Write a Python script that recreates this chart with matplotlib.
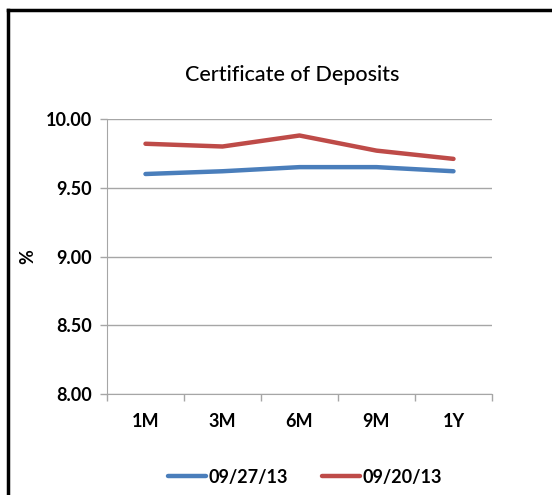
import matplotlib
matplotlib.use('Agg')
import matplotlib.pyplot as plt
from matplotlib.lines import Line2D

plt.rcParams['font.family'] = ['Lato', 'DejaVu Sans']

# data
tenors = ['1M', '3M', '6M', '9M', '1Y']
cd_0927 = [9.60, 9.62, 9.65, 9.65, 9.62]
cd_0920 = [9.82, 9.80, 9.88, 9.77, 9.71]
y_ticks = [8.00, 8.50, 9.00, 9.50, 10.00]

blue = '#4a7ebb'
red = '#be4b48'
grid_c = '#a6a6a6'

fig = plt.figure(figsize=(5.52, 4.95), dpi=100)
ax = fig.add_axes([0.1938, 0.204, 0.6975, 0.5556])

x = list(range(len(tenors)))
ax.plot(x, cd_0927, color=blue, lw=3.2, solid_capstyle='round', label='09/27/13')
ax.plot(x, cd_0920, color=red, lw=3.2, solid_capstyle='round', label='09/20/13')

ax.set_xlim(-0.5, len(tenors) - 0.5)
ax.set_ylim(8.0, 10.0)
ax.set_yticks(y_ticks)
ax.set_yticklabels(['%.2f' % v for v in y_ticks])
ax.set_xticks(x)
ax.set_xticklabels(tenors)
ax.tick_params(axis='x', length=0, pad=14)
ax.set_xticks([i - 0.5 for i in range(len(tenors) + 1)], minor=True)
ax.tick_params(axis='x', which='minor', length=5, color=grid_c, width=1)
ax.tick_params(axis='y', length=5, color=grid_c, width=1, pad=6)
for lab in ax.get_xticklabels() + ax.get_yticklabels():
    lab.set_fontsize(13)
    lab.set_fontweight('bold')

ax.yaxis.grid(True, color=grid_c, lw=1)
ax.set_axisbelow(True)
for s in ['top', 'right']:
    ax.spines[s].set_visible(False)
ax.spines['left'].set_color(grid_c)
ax.spines['bottom'].set_color(grid_c)

fig.text(28 / 552, 1 - 257 / 495, '%', rotation=90, fontsize=13, fontweight='bold',
         ha='center', va='center')
fig.text(292 / 552, 1 - 75 / 495, 'Certificate of Deposits', fontsize=15.5,
         fontweight='medium', ha='center', va='center')

fig.legend(loc='center', bbox_to_anchor=(305 / 552, 1 - 477 / 495), ncol=2,
           frameon=False, handlelength=2.1, handletextpad=0.15, columnspacing=1.9,
           prop={'size': 13, 'weight': 'bold'})

# outer frame (top and left edges visible)
fig.add_artist(Line2D([8 / 552, 8 / 552], [0, 1 - 10 / 495], color='black', lw=2.5,
                      transform=fig.transFigure))
fig.add_artist(Line2D([8 / 552, 1], [1 - 10 / 495, 1 - 10 / 495], color='black', lw=2.5,
                      transform=fig.transFigure))

fig.savefig('out.png', dpi=100)
